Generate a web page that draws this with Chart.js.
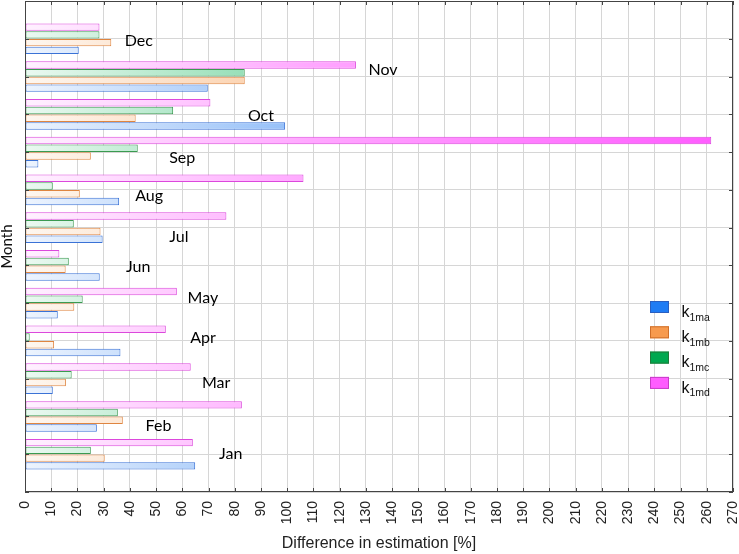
<!DOCTYPE html>
<html lang="en">
<head>
  <meta charset="UTF-8">
  <title>Difference in estimation</title>
  <style>
    html, body { margin: 0; padding: 0; background: #fff; }
    #wrap { width: 739px; height: 554px; }
  </style>
</head>
<body>
  <div id="wrap"><canvas id="chart"></canvas></div>

  <script src="https://cdn.jsdelivr.net/npm/chart.js@4"></script>
  <script>
    // data (Jan..Dec)
    const months = ['Jan', 'Feb', 'Mar', 'Apr', 'May', 'Jun', 'Jul', 'Aug', 'Sep', 'Oct', 'Nov', 'Dec'];
    const k1ma = [64.9, 27.4, 10.6, 36.4, 12.5, 28.5, 29.6, 35.9, 5.1, 99.2, 69.7, 20.5];
    const k1mb = [30.4, 37.3, 15.6, 11.1, 18.8, 15.5, 28.8, 20.9, 25.1, 42.2, 83.8, 32.9];
    const k1mc = [25.1, 35.4, 17.8, 1.8, 22.0, 16.7, 18.6, 10.6, 43.0, 56.5, 83.8, 28.4];
    const k1md = [64.0, 82.7, 63.2, 53.7, 57.9, 13.1, 76.8, 106.2, 261.7, 70.7, 126.2, 28.4];
    const seriesNames = ['1ma', '1mb', '1mc', '1md'];
    const xMin = 0, xMax = 270, xStep = 10;

    // where the month names sit inside the plot (data units)
    const monthLabelX = [74, 46, 67.5, 63, 62, 38.5, 55, 42, 55, 85, 131, 38];
    const monthLabelY = [1.0, 1.76, 2.9, 4.08, 5.14, 5.95, 6.76, 7.84, 8.84, 9.95, 11.18, 11.95];

    const monthPos = months.map((m, i) => i + 1);

    const colors = {
      '1ma': { rgb: [30, 120, 240], border: '#3a72d6', solid: '#1f7cf4', solidBorder: '#2a5fc0' },
      '1mb': { rgb: [247, 150, 70], border: '#df8540', solid: '#f79a4e', solidBorder: '#cf6f2a' },
      '1mc': { rgb: [0, 176, 80], border: '#3a9a50', solid: '#00a84f', solidBorder: '#1f7a3a' },
      '1md': { rgb: [255, 80, 255], border: '#dc48dc', solid: '#ff5cff', solidBorder: '#c83cc8' }
    };

    function mix(rgb, f) {
      return 'rgb(' + rgb.map(v => Math.round(255 - (255 - v) * f)).join(',') + ')';
    }

    function gradientFor(name) {
      return function (c) {
        const a = c.chart.chartArea;
        if (!a) return mix(colors[name].rgb, 0.3);
        const g = c.chart.ctx.createLinearGradient(a.left, 0, a.right, 0);
        g.addColorStop(0, mix(colors[name].rgb, 0.08));
        g.addColorStop(0.4, mix(colors[name].rgb, 0.5));
        g.addColorStop(1, mix(colors[name].rgb, 0.95));
        return g;
      };
    }

    const valuesByName = { '1ma': k1ma, '1mb': k1mb, '1mc': k1mc, '1md': k1md };

    // first dataset is drawn at the top of each group, so k1md goes first
    const datasets = seriesNames.slice().reverse().map(name => ({
      label: 'k' + name,
      data: valuesByName[name].map((v, i) => ({ x: v, y: monthPos[i] })),
      backgroundColor: gradientFor(name),
      borderColor: colors[name].border,
      borderWidth: 1,
      borderSkipped: false,
      categoryPercentage: 0.82,
      barPercentage: 0.96
    }));

    // month names, custom legend, frame with inward ticks
    const extras = {
      id: 'extras',
      afterDatasetsDraw(chart) {
        const { ctx, chartArea: a, scales: { x, y } } = chart;
        ctx.save();

        ctx.fillStyle = '#000';
        ctx.font = '16px Lato';
        ctx.textAlign = 'left';
        ctx.textBaseline = 'middle';
        months.forEach((m, i) => {
          ctx.fillText(m, x.getPixelForValue(monthLabelX[i]), y.getPixelForValue(monthLabelY[i]));
        });

        ctx.strokeStyle = '#444';
        ctx.lineWidth = 1;
        ctx.beginPath();
        x.ticks.forEach(t => {
          const px = Math.round(x.getPixelForValue(t.value)) + 0.5;
          ctx.moveTo(px, a.top); ctx.lineTo(px, a.top + 4);
          ctx.moveTo(px, a.bottom); ctx.lineTo(px, a.bottom - 4);
        });
        y.ticks.forEach(t => {
          const py = Math.round(y.getPixelForValue(t.value)) + 0.5;
          ctx.moveTo(a.left, py); ctx.lineTo(a.left + 4, py);
          ctx.moveTo(a.right, py); ctx.lineTo(a.right - 4, py);
        });
        ctx.stroke();
        ctx.strokeRect(Math.round(a.left) + 0.5, Math.round(a.top) + 0.5,
          Math.round(a.width) - 1, Math.round(a.height) - 1);

        // legend
        seriesNames.forEach((name, i) => {
          const bx = a.right - 83, by = a.top + 300 + i * 25.3;
          ctx.fillStyle = colors[name].solid;
          ctx.fillRect(bx, by, 19, 12);
          ctx.strokeStyle = colors[name].solidBorder;
          ctx.strokeRect(bx + 0.5, by + 0.5, 18, 11);
          ctx.fillStyle = '#111';
          ctx.textBaseline = 'alphabetic';
          ctx.font = '16px "Liberation Sans", Arial';
          ctx.fillText('k', bx + 31.5, by + 15.7);
          const kw = ctx.measureText('k').width;
          ctx.font = '10.5px "Liberation Sans", Arial';
          ctx.fillText(name, bx + 31.5 + kw, by + 19.5);
        });
        ctx.restore();
      }
    };

    new Chart(document.getElementById('chart'), {
      type: 'bar',
      data: { datasets: datasets },
      options: {
        indexAxis: 'y',
        responsive: true,
        maintainAspectRatio: false,
        animation: false,
        layout: { padding: { top: 1, right: 6, left: 0, bottom: 0 } },
        plugins: {
          legend: { display: false },
          tooltip: { enabled: false }
        },
        scales: {
          x: {
            type: 'linear',
            min: xMin,
            max: xMax,
            border: { display: false },
            grid: { color: '#d6d6d6', drawTicks: false },
            ticks: {
              stepSize: xStep,
              minRotation: 90,
              maxRotation: 90,
              padding: 9,
              color: '#222',
              font: { family: '"Liberation Sans", Arial', size: 14 }
            },
            title: {
              display: true,
              text: 'Difference in estimation [%]',
              color: '#222',
              font: { family: '"Liberation Sans", Arial', size: 16 },
              padding: { top: 0, bottom: 1 }
            },
            afterFit(axis) {
              axis.height = 62;
              axis.paddingLeft = 0;
              axis.paddingRight = 0;
            }
          },
          y: {
            type: 'linear',
            min: 0,
            max: 13,
            offset: false,
            border: { display: false },
            grid: { color: '#d6d6d6', drawTicks: false, offset: false },
            ticks: { stepSize: 1, display: false },
            title: {
              display: true,
              text: 'Month',
              color: '#111',
              font: { family: 'Lato', size: 15, lineHeight: 1 },
              padding: 0
            },
            afterFit(axis) {
              axis.width = 25;
            }
          }
        }
      },
      plugins: [extras]
    });
  </script>
</body>
</html>
